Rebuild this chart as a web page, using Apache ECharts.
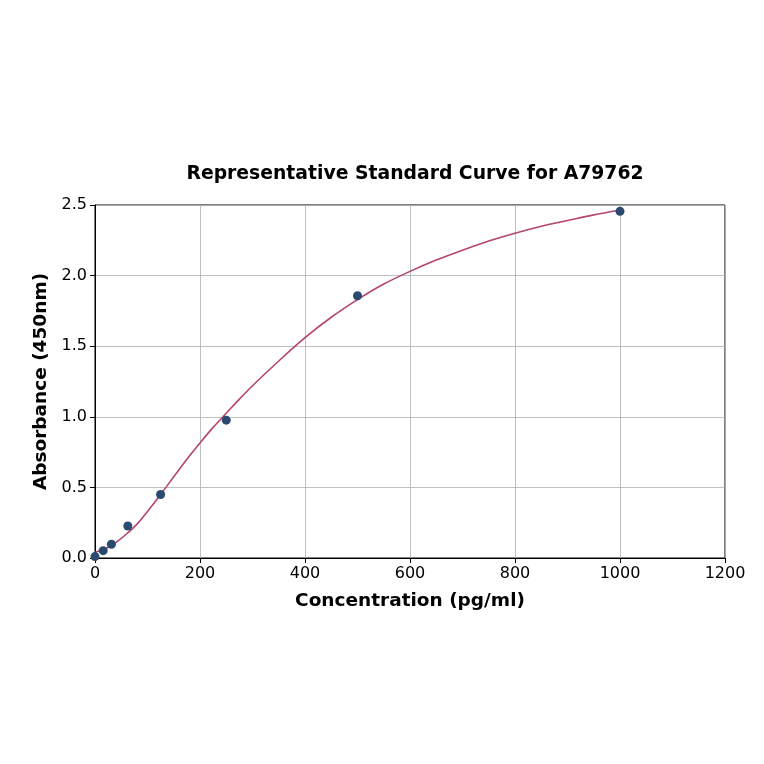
<!DOCTYPE html>
<html>
<head>
<meta charset="utf-8">
<script src="https://cdn.jsdelivr.net/npm/echarts@6/dist/echarts.min.js"></script>
<style>
html, body { margin: 0; padding: 0; background: #fff; }
#chart { width: 764px; height: 764px; }
</style>
</head>
<body>
<div id="chart"></div>
<script>
// standard points (concentration, absorbance)
var stdConc = [0, 15.6, 31.25, 62.5, 125, 250, 500, 1000];
var stdOD = [0.01, 0.052, 0.097, 0.227, 0.45, 0.976, 1.857, 2.455];

// fitted curve
var fitConc = [0, 20, 40, 60, 80, 100, 125, 150, 175, 200, 225, 250, 275, 300, 350, 400, 450, 500, 550, 600, 650, 700, 750, 800, 850, 900, 950, 1000];
var fitOD = [0.04, 0.065, 0.11, 0.17, 0.24, 0.33, 0.45, 0.575, 0.70, 0.815, 0.925, 1.025, 1.125, 1.22, 1.395, 1.56, 1.705, 1.83, 1.94, 2.03, 2.11, 2.18, 2.245, 2.30, 2.35, 2.39, 2.43, 2.465];

var font = "DejaVu Sans";

function pairs(xs, ys) {
	var out = [];
	for (var i = 0; i < xs.length; i++) {
		out.push([xs[i], ys[i]]);
	}
	return out;
}

var myChart = echarts.init(document.getElementById("chart"));
var options = {
	backgroundColor: "#fff",
	animation: false,
	title: {
		text: "Representative Standard Curve for A79762",
		left: 410,
		top: 160,
		textAlign: "center",
		textStyle: { fontFamily: font, fontSize: 18.8, fontWeight: "bold", color: "#000" }
	},
	grid: {
		left: 95, right: 39, top: 205, bottom: 206,
		show: true, borderColor: "#000", borderWidth: 1, backgroundColor: "transparent"
	},
	xAxis: {
		type: "value",
		min: 0, max: 1200, interval: 200,
		name: "Concentration (pg/ml)",
		nameLocation: "middle",
		nameGap: 34,
		nameTextStyle: { fontFamily: font, fontSize: 18.5, fontWeight: "bold", color: "#000" },
		axisLine: { show: true, onZero: false, lineStyle: { color: "#000", width: 1 } },
		axisTick: { show: true, length: 5, lineStyle: { color: "#000" } },
		axisLabel: {
			fontFamily: font, fontSize: 16, color: "#000", margin: 8,
			formatter: function (v) { return String(v); }
		},
		splitLine: { show: true, lineStyle: { color: "#b0b0b0", width: 0.8 } }
	},
	yAxis: {
		type: "value",
		min: 0, max: 2.5, interval: 0.5,
		name: "Absorbance (450nm)",
		nameLocation: "middle",
		nameGap: 44,
		nameTextStyle: { fontFamily: font, fontSize: 18.5, fontWeight: "bold", color: "#000" },
		axisLine: { show: true, onZero: false, lineStyle: { color: "#000", width: 1 } },
		axisTick: { show: true, length: 5, lineStyle: { color: "#000" } },
		axisLabel: {
			fontFamily: font, fontSize: 16, color: "#000", margin: 8,
			formatter: function (v) { return v.toFixed(1); }
		},
		splitLine: { show: true, lineStyle: { color: "#b0b0b0", width: 0.8 } }
	},
	series: [{
		name: "fit",
		type: "line",
		data: pairs(fitConc, fitOD),
		smooth: 0.3,
		showSymbol: false,
		lineStyle: { color: "#b5446e", width: 1.6 },
		z: 2
	}, {
		name: "standards",
		type: "scatter",
		data: pairs(stdConc, stdOD),
		symbolSize: 9,
		itemStyle: { color: "#2b4a6f", opacity: 1 },
		z: 3
	}]
};
myChart.setOption(options);
</script>
</body>
</html>
